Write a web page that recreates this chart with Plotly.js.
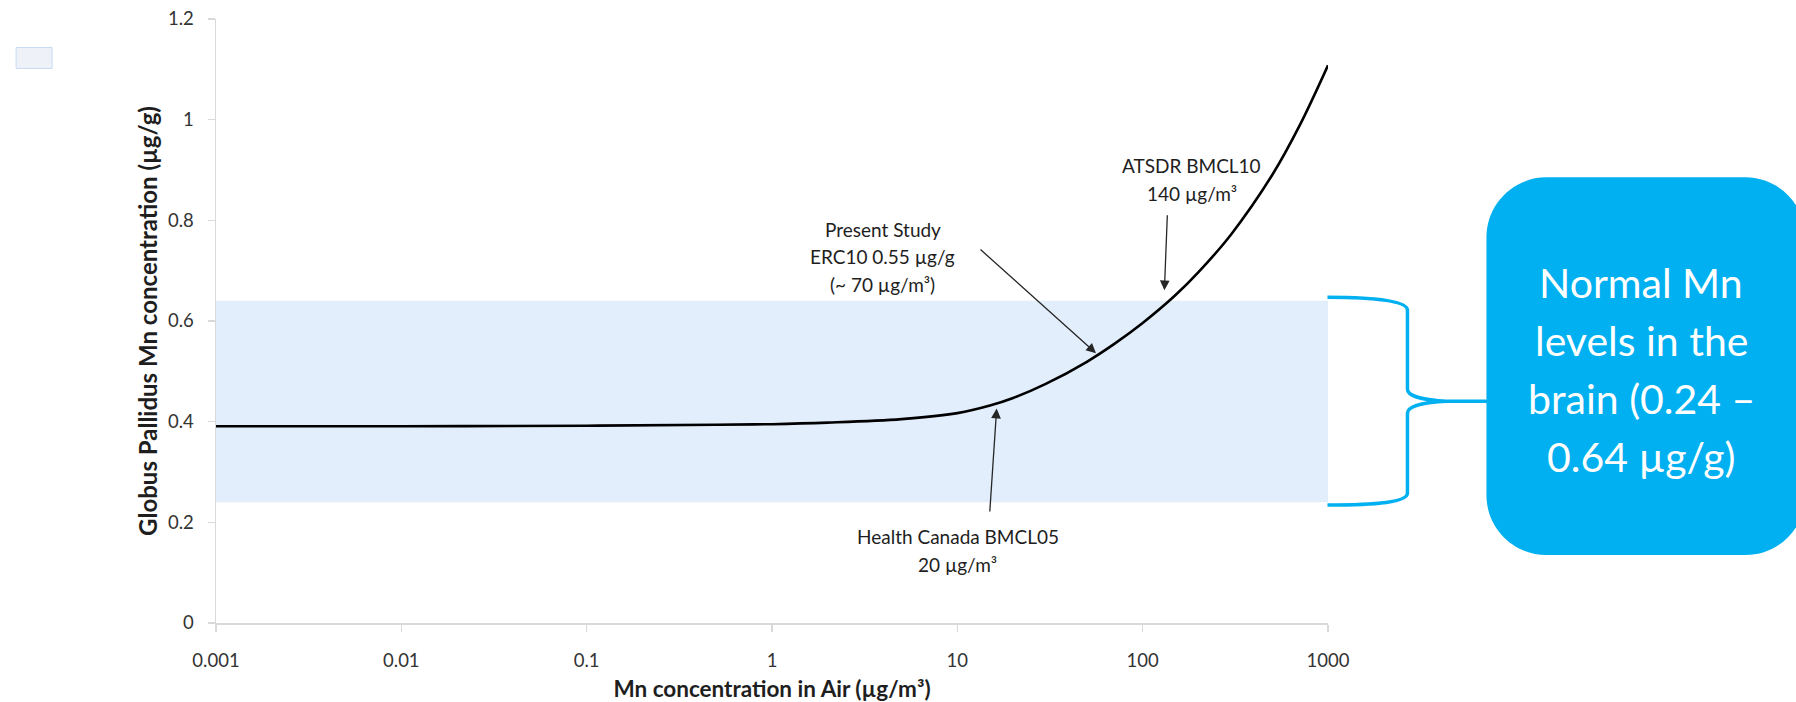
<!DOCTYPE html>
<html>
<head>
<meta charset="utf-8">
<script src="https://cdn.plot.ly/plotly-3.0.1.min.js"></script>
<style>
  html, body { margin: 0; padding: 0; background: #ffffff; }
  #chart { width: 1796px; height: 702px; }
</style>
</head>
<body>
<div id="chart"></div>
<script>
// Modelled globus pallidus Mn versus airborne Mn exposure
const airMn = [0.001, 0.01, 0.1, 0.5, 1, 2, 5, 10, 15, 20, 30, 50, 70, 100, 150, 200, 300, 500, 700, 1000];
const gpMn  = [0.391, 0.391, 0.392, 0.394, 0.395, 0.398, 0.405, 0.417, 0.432, 0.447, 0.475, 0.519, 0.554, 0.596, 0.651, 0.697, 0.772, 0.890, 0.987, 1.108];

const xTickVals = [0.001, 0.01, 0.1, 1, 10, 100, 1000];
const xTickText = ['0.001', '0.01', '0.1', '1', '10', '100', '1000'];
const yTickVals = [0, 0.2, 0.4, 0.6, 0.8, 1, 1.2];
const yTickText = ['0', '0.2', '0.4', '0.6', '0.8', '1', '1.2'];

// Normal Mn range in the brain (µg/g)
const normalLow = 0.24;
const normalHigh = 0.64;

// Reference exposure levels pointed at on the curve
const refNames  = ['Present Study', 'ATSDR BMCL10', 'Health Canada BMCL05'];
const refAirMn  = [56, 131, 16.3];
const refGpMn   = [0.536, 0.661, 0.426];

const refText = [
  ['Present Study', 'ERC10 0.55 µg/g', '(~ 70 µg/m³)'],
  ['ATSDR BMCL10', '140 µg/m³'],
  ['Health Canada BMCL05', '20 µg/m³']
];
const calloutText = ['Normal Mn', 'levels in the', 'brain (0.24 –', '0.64 µg/g)'];

// ---- page geometry (pixels) ----
const W = 1796, H = 702;
const M = { l: 216, r: W - 1328.5, t: 18.5, b: H - 623 };
const plotW = W - M.l - M.r, plotH = H - M.t - M.b;
const px = v => (v - M.l) / plotW;           // page x -> paper x
const py = v => (H - M.b - v) / plotH;       // page y -> paper y

function pathFromPx(segs) {
  // segs: [['M', x, y], ['C', x1, y1, x2, y2, x, y], ...] in page pixels
  return segs.map(s => {
    const out = [s[0]];
    for (let i = 1; i < s.length; i += 2) out.push(px(s[i]).toFixed(5) + ',' + py(s[i + 1]).toFixed(5));
    return out[0] + ' ' + out.slice(1).join(' ');
  }).join(' ');
}

function roundedRect(x0, y0, x1, y1, r) {
  const k = 0.5523 * r;
  return pathFromPx([
    ['M', x0 + r, y0], ['L', x1 - r, y0],
    ['C', x1 - r + k, y0, x1, y0 + r - k, x1, y0 + r],
    ['L', x1, y1 - r],
    ['C', x1, y1 - r + k, x1 - r + k, y1, x1 - r, y1],
    ['L', x0 + r, y1],
    ['C', x0 + r - k, y1, x0, y1 - r + k, x0, y1 - r],
    ['L', x0, y0 + r],
    ['C', x0, y0 + r - k, x0 + r - k, y0, x0 + r, y0]
  ]) + ' Z';
}

const FONT = 'Lato, "Open Sans", "Liberation Sans", sans-serif';
const textColor = '#1e1e1e';
const cyan = '#00b0f0';

const curve = {
  type: 'scatter',
  mode: 'lines',
  x: airMn,
  y: gpMn,
  line: { color: '#000000', width: 2.6, shape: 'spline', smoothing: 1 },
  hoverinfo: 'skip',
  showlegend: false
};

const annotations = [];

// stacked text lines at a given page position
function addLines(lines, cx, cy, gap, font) {
  const top = cy - gap * (lines.length - 1) / 2;
  lines.forEach((t, i) => {
    annotations.push({
      xref: 'paper', yref: 'paper', x: px(cx), y: py(top + i * gap),
      xanchor: 'center', yanchor: 'middle', showarrow: false,
      text: t, font: font
    });
  });
}

const labelFont = { family: FONT, size: 19, color: textColor };
addLines(refText[0], 883, 256.5, 27.5, labelFont);
addLines(refText[1], 1192, 179, 28, labelFont);
addLines(refText[2], 958, 550.5, 27.5, labelFont);

// pointer arrows (tail offsets in pixels)
const tails = [[-117, -105], [3, -77], [-7, 105]];
refNames.forEach((name, i) => {
  annotations.push({
    x: Math.log10(refAirMn[i]), y: refGpMn[i], xref: 'x', yref: 'y',
    ax: tails[i][0], ay: tails[i][1],
    text: ' ', font: { size: 1 }, showarrow: true,
    arrowhead: 2, arrowsize: 1.5, arrowwidth: 1.3, arrowcolor: '#262626',
    standoff: 0, startstandoff: 0
  });
});

// callout box text
addLines(calloutText, 1642, 369.5, 58, { family: FONT, size: 41, color: '#ffffff' });

const shapes = [
  // normal range band
  { type: 'rect', xref: 'paper', x0: 0, x1: 1, yref: 'y', y0: normalLow, y1: normalHigh,
    fillcolor: '#e2eefc', line: { width: 0 }, layer: 'below' },
  // curly bracket beside the band
  { type: 'path', xref: 'paper', yref: 'paper', layer: 'above',
    path: pathFromPx([
      ['M', 1328, 297], ['C', 1378, 297, 1408, 301, 1408, 310], ['L', 1408, 389],
      ['C', 1408, 396, 1425, 400, 1447, 401], ['L', 1490, 401],
      ['M', 1447, 401], ['C', 1425, 402, 1408, 406, 1408, 413], ['L', 1408, 493],
      ['C', 1408, 502, 1378, 505, 1328, 505]
    ]),
    line: { color: cyan, width: 3.5 }, fillcolor: 'rgba(0,0,0,0)' },
  // callout box
  { type: 'path', xref: 'paper', yref: 'paper', layer: 'above',
    path: roundedRect(1487, 177, 1806, 555, 60),
    fillcolor: cyan, line: { width: 0 } },
  // small legend swatch at the top left
  { type: 'rect', xref: 'paper', yref: 'paper',
    x0: px(16), x1: px(52), y0: py(68), y1: py(47),
    fillcolor: '#eef2f8', line: { color: '#c8dbf3', width: 1 } }
];

const layout = {
  width: W, height: H,
  margin: M,
  paper_bgcolor: '#ffffff',
  plot_bgcolor: 'rgba(0,0,0,0)',
  showlegend: false,
  font: { family: FONT, color: textColor },
  xaxis: {
    type: 'log', range: [-3, 3],
    tickmode: 'array', tickvals: xTickVals, ticktext: xTickText,
    showgrid: false, zeroline: false,
    showline: true, linecolor: '#d9d9d9', linewidth: 1.5,
    ticks: 'outside', ticklen: 7, tickwidth: 1.3, tickcolor: '#d9d9d9',
    ticklabelstandoff: 13,
    tickfont: { family: FONT, size: 18.5, color: '#333333' },
    title: { text: 'Mn concentration in Air (µg/m³)', standoff: 11,
             font: { family: FONT, size: 22.5, color: textColor, weight: 'bold' } }
  },
  yaxis: {
    range: [0, 1.2],
    tickmode: 'array', tickvals: yTickVals, ticktext: yTickText,
    showgrid: false, zeroline: false,
    showline: true, linecolor: '#d9d9d9', linewidth: 1.5,
    ticks: 'outside', ticklen: 7, tickwidth: 1.3, tickcolor: '#d9d9d9',
    ticklabelstandoff: 10,
    tickfont: { family: FONT, size: 18.5, color: '#333333' },
    title: { text: 'Globus Pallidus Mn concentration (µg/g)', standoff: 3,
             font: { family: FONT, size: 24, color: textColor, weight: 'bold' } }
  },
  shapes: shapes,
  annotations: annotations
};

Plotly.newPlot('chart', [curve], layout, { displayModeBar: false, staticPlot: true });
</script>
</body>
</html>
